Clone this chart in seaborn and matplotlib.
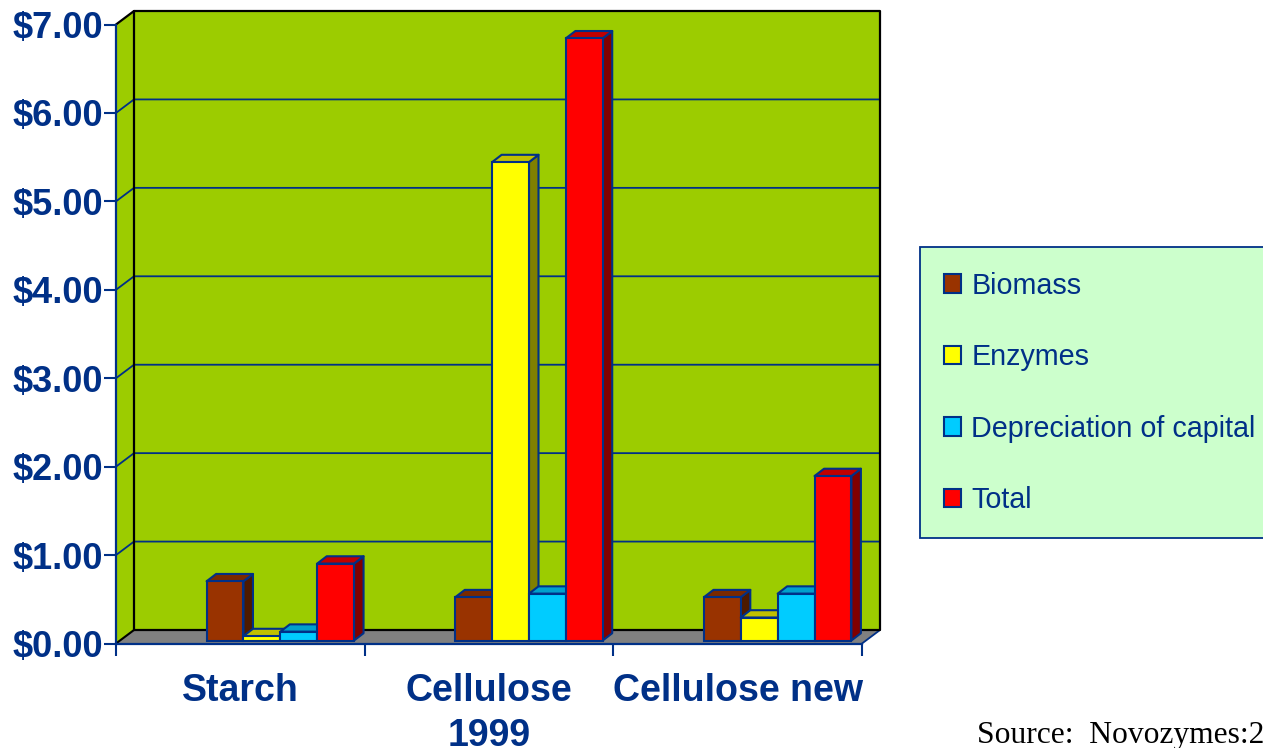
import matplotlib
matplotlib.use('Agg')
import seaborn as sns
import matplotlib.pyplot as plt
import pandas as pd
from matplotlib.patches import Polygon

categories = ['Starch', 'Cellulose\n1999', 'Cellulose new']
series = ['Biomass', 'Enzymes', 'Depreciation of capital', 'Total']
biomass = [0.67, 0.49, 0.49]
enzymes = [0.05, 5.41, 0.26]
depreciation = [0.10, 0.53, 0.53]
total = [0.87, 6.81, 1.86]
y_ticks = [0, 1, 2, 3, 4, 5, 6, 7]

navy = '#003087'
front_colors = ['#993300', '#ffff00', '#00ccff', '#ff0000']
top_colors = ['#7a2900', '#c0c000', '#00a0cc', '#c00000']
side_colors = ['#4d1a00', '#808000', '#006680', '#800000']

sns.set_theme(style='white')
plt.rcParams['font.family'] = ['Liberation Sans', 'DejaVu Sans']

W, H = 1263, 748
fig = plt.figure(figsize=(W / 100, H / 100), dpi=100, facecolor='white')
ax = fig.add_axes([116 / W, (H - 643.5) / H, 746 / W, 619 / H])

df = pd.DataFrame({
    'category': categories * 4,
    'series': [s for s in series for _ in categories],
    'value': biomass + enzymes + depreciation + total,
})

sns.barplot(data=df, x='category', y='value', hue='series', hue_order=series,
            palette=front_colors, width=0.593, gap=0, saturation=1,
            edgecolor=navy, linewidth=1.5, ax=ax, zorder=5)

ax.set_xlim(-0.5, 2.5)
ax.set_ylim(0, 7)
px_x = 3 / 746    # data units per pixel
px_y = 7 / 619
wall_dx, wall_dy = 18 * px_x, 13.5 * px_y
bar_dx, bar_dy = 9.5 * px_x, 7.3 * px_y
shift_x, shift_y = 40 * px_x, 3 * px_y

# walls and floor
ax.patch.set_visible(False)
x0, x1 = -0.5, 2.5
ax.add_patch(Polygon([(x0 + wall_dx, wall_dy), (x1 + wall_dx, wall_dy), (x1 + wall_dx, 7 + wall_dy), (x0 + wall_dx, 7 + wall_dy)],
                     fc='#9ccc00', ec='none', clip_on=False, zorder=0))
ax.add_patch(Polygon([(x0, 0), (x0 + wall_dx, wall_dy), (x0 + wall_dx, 7 + wall_dy), (x0, 7)],
                     fc='#9ccc00', ec='none', clip_on=False, zorder=0))
ax.add_patch(Polygon([(x0, 0), (x0 + wall_dx, wall_dy), (x1 + wall_dx, wall_dy), (x1, 0)],
                     fc='#808080', ec='none', clip_on=False, zorder=0.5))

# grid lines
for v in y_ticks[1:-1]:
    ax.plot([x0, x0 + wall_dx, x1 + wall_dx], [v, v + wall_dy, v + wall_dy], color=navy, lw=1.3, clip_on=False, zorder=1)
ax.plot([x0, x0 + wall_dx], [0, wall_dy], color='black', lw=1.5, clip_on=False, zorder=1)
ax.plot([x1, x1 + wall_dx], [0, wall_dy], color=navy, lw=1.3, clip_on=False, zorder=1)
ax.plot([x0, x0 + wall_dx, x1 + wall_dx, x1 + wall_dx, x0 + wall_dx, x0 + wall_dx],
        [7, 7 + wall_dy, 7 + wall_dy, wall_dy, wall_dy, 7 + wall_dy], color='black', lw=1.6, clip_on=False, zorder=1.5)

# bars: move into the floor and add the top and side faces
n_cat = len(categories)
for i, bar in enumerate(list(ax.containers[0]) + list(ax.containers[1]) + list(ax.containers[2]) + list(ax.containers[3])):
    s = i // n_cat
    z = 5 + s * 0.1
    bx = bar.get_x() + shift_x
    bw = bar.get_width()
    h = bar.get_height()
    bar.set_x(bx)
    bar.set_y(shift_y)
    bar.set_zorder(z + 0.02)
    bar.set_clip_on(False)
    b, t = shift_y, shift_y + h
    ax.add_patch(Polygon([(bx + bw, b), (bx + bw + bar_dx, b + bar_dy), (bx + bw + bar_dx, t + bar_dy), (bx + bw, t)],
                         fc=side_colors[s], ec=navy, lw=1.5, joinstyle='round', clip_on=False, zorder=z))
    ax.add_patch(Polygon([(bx, t), (bx + bar_dx, t + bar_dy), (bx + bw + bar_dx, t + bar_dy), (bx + bw, t)],
                         fc=top_colors[s], ec=navy, lw=1.5, joinstyle='round', clip_on=False, zorder=z + 0.01))

# axes and labels
sns.despine(ax=ax, top=True, right=True)
for side in ['left', 'bottom']:
    ax.spines[side].set_color(navy)
    ax.spines[side].set_linewidth(1.6)
    ax.spines[side].set_zorder(2)
ax.set_xlabel('')
ax.set_ylabel('')
ax.set_yticks(y_ticks)
ax.set_yticklabels(['$%.2f' % v for v in y_ticks], fontsize=26, fontweight='bold', color=navy)
ax.set_xticks([-0.5, 0.5, 1.5, 2.5])
ax.set_xticklabels([])
ax.set_xticks([0, 1, 2], minor=True)
ax.set_xticklabels(categories, minor=True, fontsize=27, fontweight='bold', color=navy, linespacing=1.33)
ax.tick_params(axis='y', which='major', left=True, length=8.5, width=1.5, color=navy, pad=1)
ax.tick_params(axis='x', which='major', bottom=True, length=8.5, width=1.5, color=navy)
ax.tick_params(axis='x', which='minor', bottom=False, pad=17)

# legend runs off the right side of the figure
handles, labels = ax.get_legend_handles_labels()
leg = ax.legend(handles, labels, loc='upper left', bbox_to_anchor=(920 / W, 1 - 247.5 / H, 0.3, 0), bbox_transform=fig.transFigure,
                mode='expand', fontsize=20.7, labelcolor=navy, frameon=True, fancybox=False, shadow=False,
                handlelength=0.6, handleheight=0.6, handletextpad=0.35, labelspacing=1.515, borderpad=0.84,
                borderaxespad=0, facecolor='#ccffcc', edgecolor=navy, framealpha=1)
leg.get_frame().set_linewidth(1.3)
leg.set_zorder(10)

fig.text(977 / W, 1 - 736 / H, 'Source:  Novozymes:2', family='Liberation Serif', fontsize=22.7, color='black', va='center', ha='left')

fig.savefig('out.png', dpi=100)
